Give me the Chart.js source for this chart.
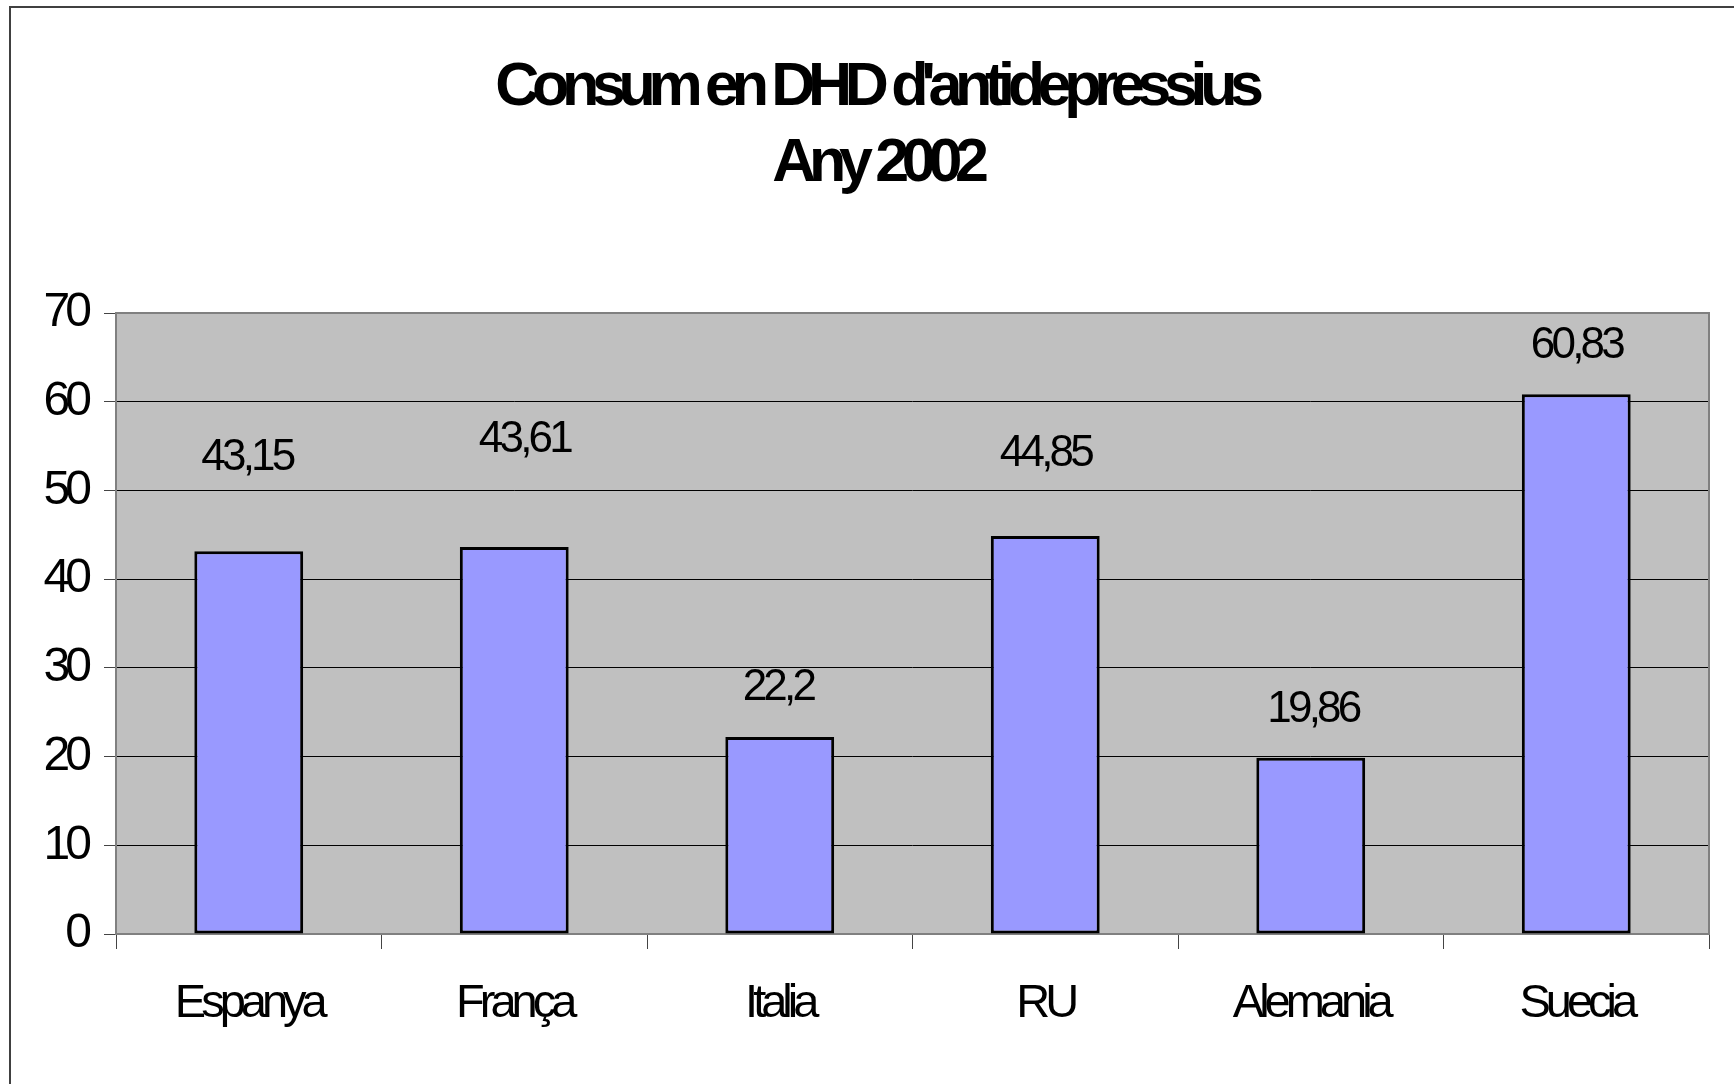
<!DOCTYPE html>
<html>
<head>
<meta charset="utf-8">
<script src="https://cdn.jsdelivr.net/npm/chart.js@4/dist/chart.umd.min.js"></script>
<style>
  html, body { margin: 0; padding: 0; background: #fff; }
  canvas { display: block; }
</style>
</head>
<body>
<canvas id="myChart" width="1734" height="1084"></canvas>
<script>
const countries = ['Espanya', 'França', 'Italia', 'RU', 'Alemania', 'Suecia'];
const dhd = [43.15, 43.61, 22.2, 44.85, 19.86, 60.83];
const titleLines = ["Consum en DHD d'antidepressius", 'Any 2002'];
const yTicks = [0, 10, 20, 30, 40, 50, 60, 70];

// labels were dragged by hand in the original, so they sit at uneven heights
const labelLift = [93, 107, 49, 82, 48, 48];
const labelShift = [0, 12, 0, 2, 4, 2];

const FONT = '"Liberation Sans", Arial, sans-serif';

const excelLook = {
  id: 'excelLook',
  beforeDraw(chart) {
    const ctx = chart.ctx;
    const a = chart.chartArea;
    ctx.save();
    ctx.fillStyle = '#fff';
    ctx.fillRect(0, 0, chart.width, chart.height);
    // outer frame (only top and left are inside the picture)
    ctx.strokeStyle = '#404040';
    ctx.lineWidth = 2;
    ctx.beginPath();
    ctx.moveTo(10, chart.height);
    ctx.lineTo(10, 7);
    ctx.lineTo(chart.width, 7);
    ctx.stroke();
    ctx.fillStyle = '#c0c0c0';
    ctx.fillRect(a.left, a.top, a.right - a.left, a.bottom - a.top);
    ctx.restore();
    ctx.letterSpacing = '-5px';
  },
  beforeDatasetsDraw(chart) {
    const ctx = chart.ctx;
    const a = chart.chartArea;
    ctx.save();
    ctx.strokeStyle = '#808080';
    ctx.lineWidth = 2;
    ctx.strokeRect(a.left, a.top, a.right - a.left, a.bottom - a.top);
    ctx.restore();
  },
  afterDraw(chart) {
    const ctx = chart.ctx;
    ctx.save();
    ctx.fillStyle = '#000';
    ctx.textAlign = 'center';

    // title
    ctx.font = 'bold 61px ' + FONT;
    ctx.letterSpacing = '-7.3px';
    ctx.textBaseline = 'alphabetic';
    ctx.fillText(titleLines[0], 878 - 2, 105);
    ctx.fillText(titleLines[1], 878 - 1, 181);

    // value labels
    ctx.font = '44px ' + FONT;
    ctx.letterSpacing = '-3.8px';
    ctx.textBaseline = 'middle';
    const meta = chart.getDatasetMeta(0);
    meta.data.forEach((bar, i) => {
      const txt = String(dhd[i]).replace('.', ',');
      ctx.fillText(txt, bar.x + labelShift[i] - 1.9, bar.y - labelLift[i]);
    });
    ctx.restore();
  }
};

new Chart(document.getElementById('myChart'), {
  type: 'bar',
  data: {
    labels: countries,
    datasets: [{
      data: dhd,
      backgroundColor: '#9999ff',
      borderColor: '#000',
      borderWidth: 3,
      borderSkipped: false,
      barPercentage: 0.41,
      categoryPercentage: 1
    }]
  },
  options: {
    responsive: false,
    animation: false,
    devicePixelRatio: 1,
    layout: { padding: { top: 313, left: 0, right: 25, bottom: 0 } },
    plugins: {
      legend: { display: false },
      tooltip: { enabled: false },
      title: { display: false }
    },
    scales: {
      x: {
        afterFit(scale) { scale.height = 150; },
        grid: {
          offset: true,
          drawOnChartArea: false,
          tickLength: 15,
          tickColor: '#444',
          lineWidth: 1
        },
        border: { display: false },
        ticks: {
          color: '#000',
          padding: 27,
          maxRotation: 0,
          font: { family: FONT, size: 47 }
        }
      },
      y: {
        min: 0,
        max: 70,
        afterFit(scale) { scale.width = 116; },
        afterBuildTicks(scale) { scale.ticks = yTicks.map(v => ({ value: v })); },
        grid: {
          color: '#000',
          lineWidth: 1,
          tickLength: 12,
          tickColor: '#444'
        },
        border: { display: false },
        ticks: {
          color: '#000',
          padding: 17,
          font: { family: FONT, size: 48 }
        }
      }
    }
  },
  plugins: [excelLook]
});
</script>
</body>
</html>
